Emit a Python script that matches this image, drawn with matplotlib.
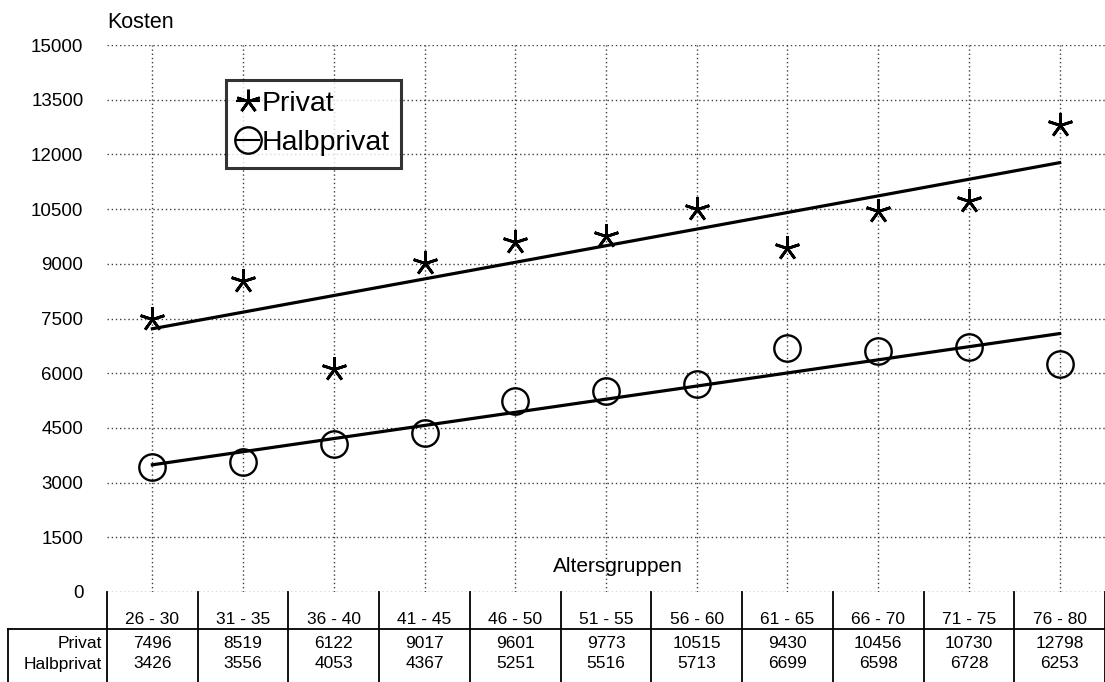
"""Kosten nach Altersgruppen : Privat / Halbprivat, avec droites de tendance et tableau."""

import matplotlib

matplotlib.use("Agg")
import matplotlib.pyplot as plt
import numpy as np
from matplotlib.lines import Line2D

plt.rcParams["font.family"] = ["Liberation Sans", "DejaVu Sans"]

groups = ["26 - 30", "31 - 35", "36 - 40", "41 - 45", "46 - 50", "51 - 55",
          "56 - 60", "61 - 65", "66 - 70", "71 - 75", "76 - 80"]
privat = [7496, 8519, 6122, 9017, 9601, 9773, 10515, 9430, 10456, 10730, 12798]
halbprivat = [3426, 3556, 4053, 4367, 5251, 5516, 5713, 6699, 6598, 6728, 6253]
series_names = ["Privat", "Halbprivat"]
y_ticks = np.arange(0, 15001, 1500)

W, H = 1105, 682
fig = plt.figure(figsize=(W / 100, H / 100), dpi=100)

# zone du graphique en pixels (gauche, haut, droite, bas)
left_px, top_px, right_px, bottom_px = 107, 45, 1105, 592
ax = fig.add_axes([left_px / W, 1 - bottom_px / H, (right_px - left_px) / W,
                   (bottom_px - top_px) / H])

x = np.arange(len(groups))
grid_style = dict(color="0.25", linestyle=(0, (1, 2)), linewidth=1.0)
for yv in y_ticks:
    ax.axhline(yv, **grid_style, zorder=0)
for xv in x:
    ax.axvline(xv, **grid_style, zorder=0)

star = (5, 2, 0)
ax.plot(x, privat, linestyle="", marker=star, markersize=18, markeredgewidth=2.0,
        color="black", zorder=3)
ax.plot(x, halbprivat, linestyle="", marker="o", markersize=19, markeredgewidth=1.7,
        markerfacecolor="none", markeredgecolor="black", zorder=3)

# droites de régression linéaire
for vals in (privat, halbprivat):
    k, b = np.polyfit(x, vals, 1)
    ax.plot([x[0], x[-1]], [k * x[0] + b, k * x[-1] + b], color="black", linewidth=2.3,
            zorder=2)

ax.set_xlim(-0.5, len(groups) - 0.5)
ax.set_ylim(0, 15000)
ax.set_yticks(y_ticks)
ax.set_yticklabels([str(v) for v in y_ticks], fontsize=13.5)
ax.set_xticks([])
ax.tick_params(axis="y", length=0, pad=17)
for sp in ax.spines.values():
    sp.set_visible(False)

fig.text(107 / W, 1 - 22 / H, "Kosten", fontsize=15.5, va="center", ha="left")
fig.text(618 / W, 1 - 566 / H, "Altersgruppen", fontsize=15, va="center", ha="center")

handles = [
    Line2D([], [], color="black", linewidth=1.5, marker=star, markersize=17,
           markeredgewidth=2.0),
    Line2D([], [], color="black", linewidth=1.5, marker="o", markersize=19,
           markerfacecolor="none", markeredgewidth=1.7),
]
leg = fig.legend(handles, series_names, loc="upper left",
                 bbox_to_anchor=(226 / W, 1 - 80 / H), fontsize=20.5, frameon=True,
                 fancybox=False, edgecolor="black", handlelength=0.75, handletextpad=0.1,
                 borderpad=0.4, labelspacing=0.45, borderaxespad=0)
leg.get_frame().set_linewidth(2.2)

# tableau sous le graphique (y en pixels depuis le haut)
tab = fig.add_axes([left_px / W, 0, (right_px - left_px) / W, (H - bottom_px) / H])
tab.set_xlim(-0.5, len(groups) - 0.5)
tab.set_ylim(H, bottom_px)
tab.axis("off")
col_w_px = (right_px - left_px) / len(groups)
box_left = -0.5 - (left_px - 8) / col_w_px
label_x = -0.5 - (left_px - 102) / col_w_px
line_kw = dict(color="black", linewidth=1.3, clip_on=False)
for k in range(len(groups) + 1):
    tab.plot([k - 0.5, k - 0.5], [bottom_px, H], **line_kw)
tab.plot([box_left, box_left], [629, H], **line_kw)
tab.plot([box_left, len(groups) - 0.5], [629, 629], **line_kw)

for i, g in enumerate(groups):
    tab.text(i, 619, g, ha="center", va="center", fontsize=12.5)
for row_y, name, vals in ((643, series_names[0], privat), (664, series_names[1], halbprivat)):
    tab.text(label_x, row_y, name, ha="right", va="center", fontsize=12.5, clip_on=False)
    for i, v in enumerate(vals):
        tab.text(i, row_y, str(v), ha="center", va="center", fontsize=12.5)

fig.savefig("out.png", dpi=100)
